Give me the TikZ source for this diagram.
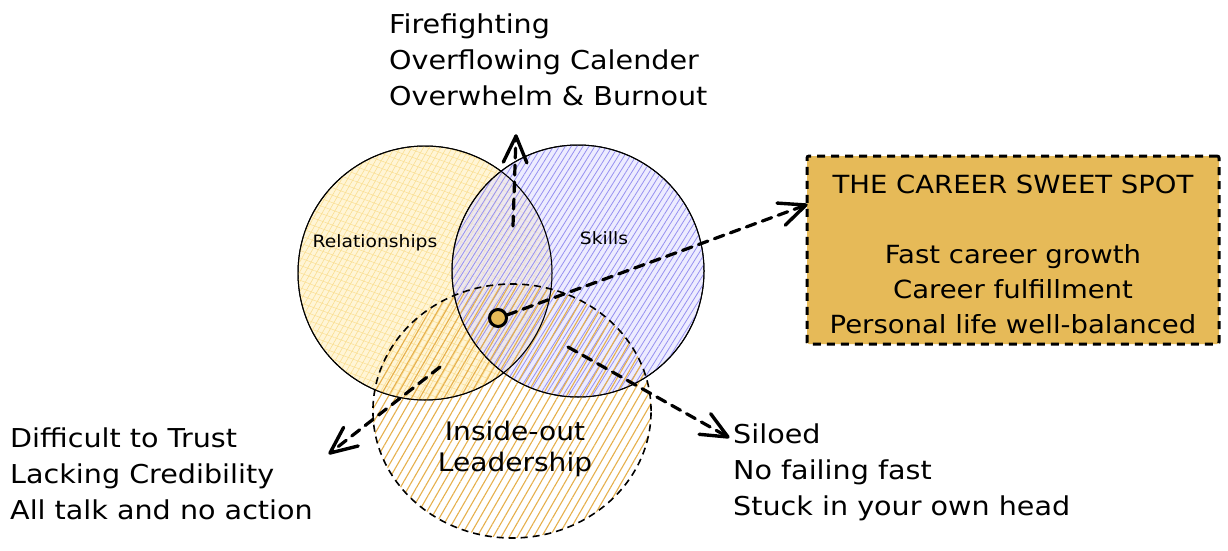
\documentclass[tikz,border=0pt]{standalone}
\usepackage{fontspec}
\setmainfont[FakeStretch=1.1]{DejaVu Sans}
\usetikzlibrary{patterns.meta,calc}
\definecolor{boxgold}{RGB}{230,186,88}
\definecolor{relfill}{RGB}{255,244,210}
\definecolor{relline}{RGB}{250,222,145}
\definecolor{skfill}{RGB}{226,224,255}
\definecolor{skline}{RGB}{150,144,240}
\definecolor{inline}{RGB}{230,176,76}
\begin{document}
\begin{tikzpicture}[x=1pt,y=-1pt,
  ring/.style={circle, draw=black, line width=1pt, inner sep=0pt, minimum size=#1},
  dashline/.style={line width=3.2pt, dash pattern=on 10pt off 7pt, line cap=round},
  headtip/.style={line width=3.4pt, solid, line cap=round, line join=round},
  outtext/.style={inner sep=0pt, align=left, font=\fontsize{26}{36}\selectfont},
  smalllabel/.style={inner sep=0pt, font=\fontsize{17}{20}\selectfont}]
\useasboundingbox (0,0) rectangle (1228,551);
\fill[white] (0,0) rectangle (1228,551);

% circles
\node[ring=254pt, fill=relfill, fill opacity=0.9,
  postaction={pattern={Lines[angle=60,distance=5pt,line width=0.6pt]}, pattern color=relline},
  postaction={pattern={Lines[angle=-20,distance=7pt,line width=0.5pt]}, pattern color=relline}]
  (rel) at (425,273) {};
\node[ring=252pt, fill=skfill, fill opacity=0.6,
  postaction={pattern={Lines[angle=58,distance=5pt,line width=0.8pt]}, pattern color=skline}]
  (skills) at (578,271) {};
\node[circle, inner sep=0pt, minimum size=254pt, xscale=1.095,
  pattern={Lines[angle=60,distance=7pt,line width=1.1pt]}, pattern color=inline,
  draw=black, line width=1.6pt, dash pattern=on 7pt off 5pt]
  (inside) at (512,411) {};
\draw[black, line width=1pt] (rel) circle[radius=127];
\draw[black, line width=1pt] (skills) circle[radius=126];

% labels in circles
\node[smalllabel] (rellabel) at (375,243) {Relationships};
\node[smalllabel] (sklabel) at (604,238) {Skills};
\node[inner sep=0pt, align=center, font=\fontsize{25.5}{31}\selectfont] (inlabel) at (515,449) {Inside-out\\Leadership};

% sweet spot box
\node[draw=black, fill=boxgold, line width=3pt, dash pattern=on 8pt off 6pt,
  rounded corners=2pt, minimum width=412pt, minimum height=188pt, inner sep=0pt]
  (box) at (1013,250) {};
\node[inner sep=0pt, align=center, font=\fontsize{25}{35}\selectfont] (sweet) at (1013,254)
  {THE CAREER SWEET SPOT\\[0pt] \\ Fast career growth\\Career fulfillment\\Personal life well-balanced};

% outer texts
\node[outtext, anchor=north west] (toptext) at (389,14) {Firefighting\\Overflowing Calender\\Overwhelm \& Burnout};
\node[outtext, anchor=north west] (lefttext) at (10,428) {Difficult to Trust\\Lacking Credibility\\All talk and no action};
\node[outtext, anchor=north west] (righttext) at (733,424) {Siloed\\No failing fast\\Stuck in your own head};

% dot
\node[circle, inner sep=0pt, minimum size=17pt, fill=boxgold, draw=black, line width=3pt] (dot) at (498,318) {};

% arrows
\coordinate (upS) at (513,226);
\coordinate (upE) at (516,136);
\coordinate (brS) at (507,315);
\coordinate (brE) at (806,205);
\coordinate (llS) at (440,367);
\coordinate (llE) at (330,453);
\coordinate (lrS) at (568,347);
\coordinate (lrE) at (728,437);
\draw[dashline] (upS) -- (upE);
\draw[dashline] (brS) -- (brE);
\draw[dashline] (llS) -- (llE);
\draw[dashline] (lrS) -- (lrE);
\draw[headtip] ($(upE)!29pt!24:(upS)$) -- (upE) -- ($(upE)!29pt!-24:(upS)$);
\draw[headtip] ($(brE)!29pt!24:(brS)$) -- (brE) -- ($(brE)!29pt!-24:(brS)$);
\draw[headtip] ($(llE)!29pt!24:(llS)$) -- (llE) -- ($(llE)!29pt!-24:(llS)$);
\draw[headtip] ($(lrE)!29pt!24:(lrS)$) -- (lrE) -- ($(lrE)!29pt!-24:(lrS)$);
\end{tikzpicture}
\end{document}
